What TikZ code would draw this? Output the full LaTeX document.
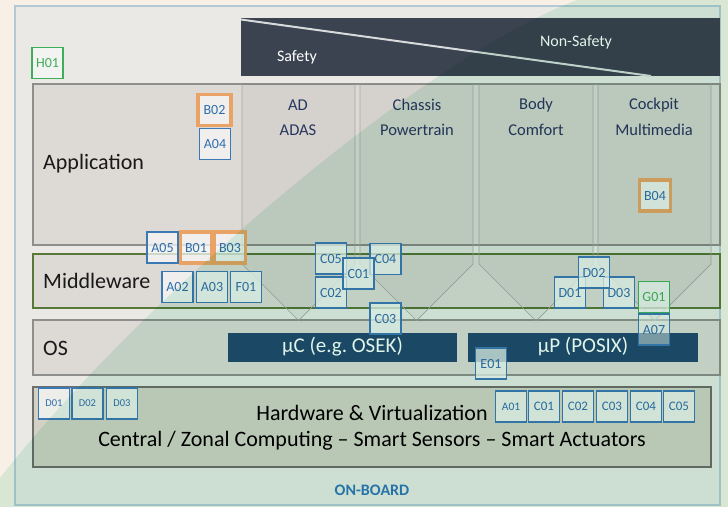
\documentclass[tikz,border=0pt]{standalone}
\usepackage{fontspec}
\setmainfont{Carlito}
\definecolor{cream}{HTML}{F8F0E6}
\definecolor{framefill}{HTML}{EAE9E6}
\definecolor{frameline}{HTML}{B3C9D6}
\definecolor{layerfill}{HTML}{DDD9D5}
\definecolor{layerline}{HTML}{8E8E8C}
\definecolor{mwline}{HTML}{58783A}
\definecolor{hwfill}{HTML}{D3D1C6}
\definecolor{hwline}{HTML}{6F6F6B}
\definecolor{banner}{HTML}{3B4351}
\definecolor{cpu}{HTML}{1F4B6D}
\definecolor{tagblue}{HTML}{3A79B4}
\definecolor{tagtext}{HTML}{2F6EAC}
\definecolor{tagorange}{HTML}{E9A366}
\definecolor{taggreen}{HTML}{3FAE5A}
\definecolor{domain}{HTML}{26375F}
\definecolor{onboard}{HTML}{2C78B8}
\definecolor{greentint}{RGB}{224,245,234}
\tikzset{
  layer/.style={draw=layerline, line width=1.1pt, fill=layerfill},
  colbox/.style={draw=layerline!80, line width=0.7pt, fill=black, fill opacity=0.035},
  biglabel/.style={font=\fontsize{22}{24}\selectfont, text=black!90, anchor=west, inner sep=0pt},
  domainlabel/.style={font=\fontsize{16.5}{18}\selectfont, text=domain, inner sep=0pt},
  bannertext/.style={font=\fontsize{16}{18}\selectfont, text=white, inner sep=0pt},
  cpubox/.style={fill=cpu, text=white, font=\fontsize{21}{22}\selectfont, inner sep=0pt},
  tag/.style={draw=tagblue, line width=1.3pt, fill=white!94!gray, fill opacity=0.75,
    text opacity=1, text=tagtext, minimum width=31pt, minimum height=31pt,
    inner sep=0pt, font=\fontsize{14}{14}\selectfont},
  otag/.style={tag, draw=tagorange, line width=3.5pt},
  gtag/.style={tag, draw=taggreen, text=taggreen},
  hwtag/.style={tag, font=\fontsize{13}{13}\selectfont},
}
\begin{document}
\begin{tikzpicture}[x=1pt, y=-1pt]
\useasboundingbox (0,0) rectangle (728,507);
% page background
\fill[cream] (0,0) rectangle (728,507);
% outer frame
\draw[frameline, line width=2pt, fill=framefill] (15,6) rectangle (720,505);

% layers
\draw[layer] (33,84) rectangle (720,245);
\draw[layer, draw=mwline, line width=1.3pt] (33,254) rectangle (720,308);
\draw[layer] (33,320) rectangle (720,375);
\draw[layer, fill=hwfill, draw=hwline] (33,387) rectangle (711,467);

% domain columns narrowing into funnels
\foreach \a/\b in {242/355, 360/473, 479/593, 598/711}{
  \filldraw[colbox] (\a,84) -- (\a,264) -- ({(\a+\b)/2},{264+(\b-\a)/2}) -- (\b,264) -- (\b,84);
}

% safety banner
\fill[banner] (241,18) rectangle (720,76);
\draw[white!80!banner, line width=2pt] (241,19.5) -- (651,76);
\node[bannertext] (safety) at (297,57) {Safety};
\node[bannertext] (nonsafety) at (576,42) {Non-Safety};

% layer labels
\node[biglabel] (app) at (43,164) {Application};
\node[biglabel] (mw) at (43,281) {Middleware};
\node[biglabel] (os) at (43,348) {OS};
\node[font=\fontsize{22}{24}\selectfont, inner sep=0pt] (hw1) at (372,413) {Hardware \& Virtualization};
\node[font=\fontsize{22}{24}\selectfont, inner sep=0pt] (hw2) at (372,441) {Central / Zonal Computing – Smart Sensors – Smart Actuators};
\node[font=\bfseries\fontsize{16}{17}\selectfont, text=onboard, inner sep=0pt] (onboard) at (372,490) {ON-BOARD};

% domain labels
\node[domainlabel] (ad) at (298,105) {AD};
\node[domainlabel] (adas) at (298,130) {ADAS};
\node[domainlabel] (chassis) at (417,105) {Chassis};
\node[domainlabel] (powertrain) at (417,130) {Powertrain};
\node[domainlabel] (body) at (536,105) {Body};
\node[domainlabel] (comfort) at (536,130) {Comfort};
\node[domainlabel] (cockpit) at (654,105) {Cockpit};
\node[domainlabel] (multimedia) at (654,130) {Multimedia};

% processor classes
\node[cpubox, minimum width=229pt, minimum height=29pt] (uc) at (342.5,347) {µC (e.g.\ OSEK)};
\node[cpubox, minimum width=230pt, minimum height=29pt] (up) at (583,347) {µP (POSIX)};

% tags
\node[gtag] (h01) at (47.5,63) {H01};
\node[otag, minimum width=33pt] (b02) at (214.5,110) {B02};
\node[tag] (a04) at (215,144) {A04};
\node[tag] (a05) at (162.5,247.5) {A05};
\node[otag] (b01) at (196,247.5) {B01};
\node[otag] (b03) at (230,247.5) {B03};
\node[tag] (a02) at (177.5,287) {A02};
\node[tag] (a03) at (212,287) {A03};
\node[tag] (f01) at (246,287) {F01};
\node[tag] (mc05) at (331,258.5) {C05};
\node[tag] (mc02) at (331,292.5) {C02};
\node[tag] (mc04) at (385.5,259) {C04};
\node[tag] (mc01) at (358.5,273.5) {C01};
\node[tag] (mc03) at (385.5,318.5) {C03};
\node[tag] (md01) at (570,292.5) {D01};
\node[tag] (md03) at (619,292.5) {D03};
\node[tag] (md02) at (594,272.5) {D02};
\node[gtag] (g01) at (654,297) {G01};
\node[tag, fill opacity=0.5] (a07) at (654,329.5) {A07};
\node[tag] (e01) at (491,363.5) {E01};
\node[otag] (b04) at (655,195.5) {B04};

\node[hwtag, font=\fontsize{10.5}{11}\selectfont] (hd01) at (54,403.5) {D01};
\node[hwtag, font=\fontsize{10.5}{11}\selectfont] (hd02) at (87.5,403.5) {D02};
\node[hwtag, font=\fontsize{10.5}{11}\selectfont] (hd03) at (122,403.5) {D03};
\node[hwtag, font=\fontsize{11.5}{12}\selectfont] (ha01) at (511,406.5) {A01};
\node[hwtag] (hc01) at (544,406.5) {C01};
\node[hwtag] (hc02) at (578,406.5) {C02};
\node[hwtag] (hc03) at (612,406.5) {C03};
\node[hwtag] (hc04) at (646,406.5) {C04};
\node[hwtag] (hc05) at (679,406.5) {C05};

% green tint over the lower right half
\begin{scope}[blend mode=multiply]
\fill[greentint] (577,0) .. controls (420,60) and (140,300) .. (0,478)
  -- (0,507) -- (728,507) -- (728,0) -- cycle;
\end{scope}
\end{tikzpicture}
\end{document}
